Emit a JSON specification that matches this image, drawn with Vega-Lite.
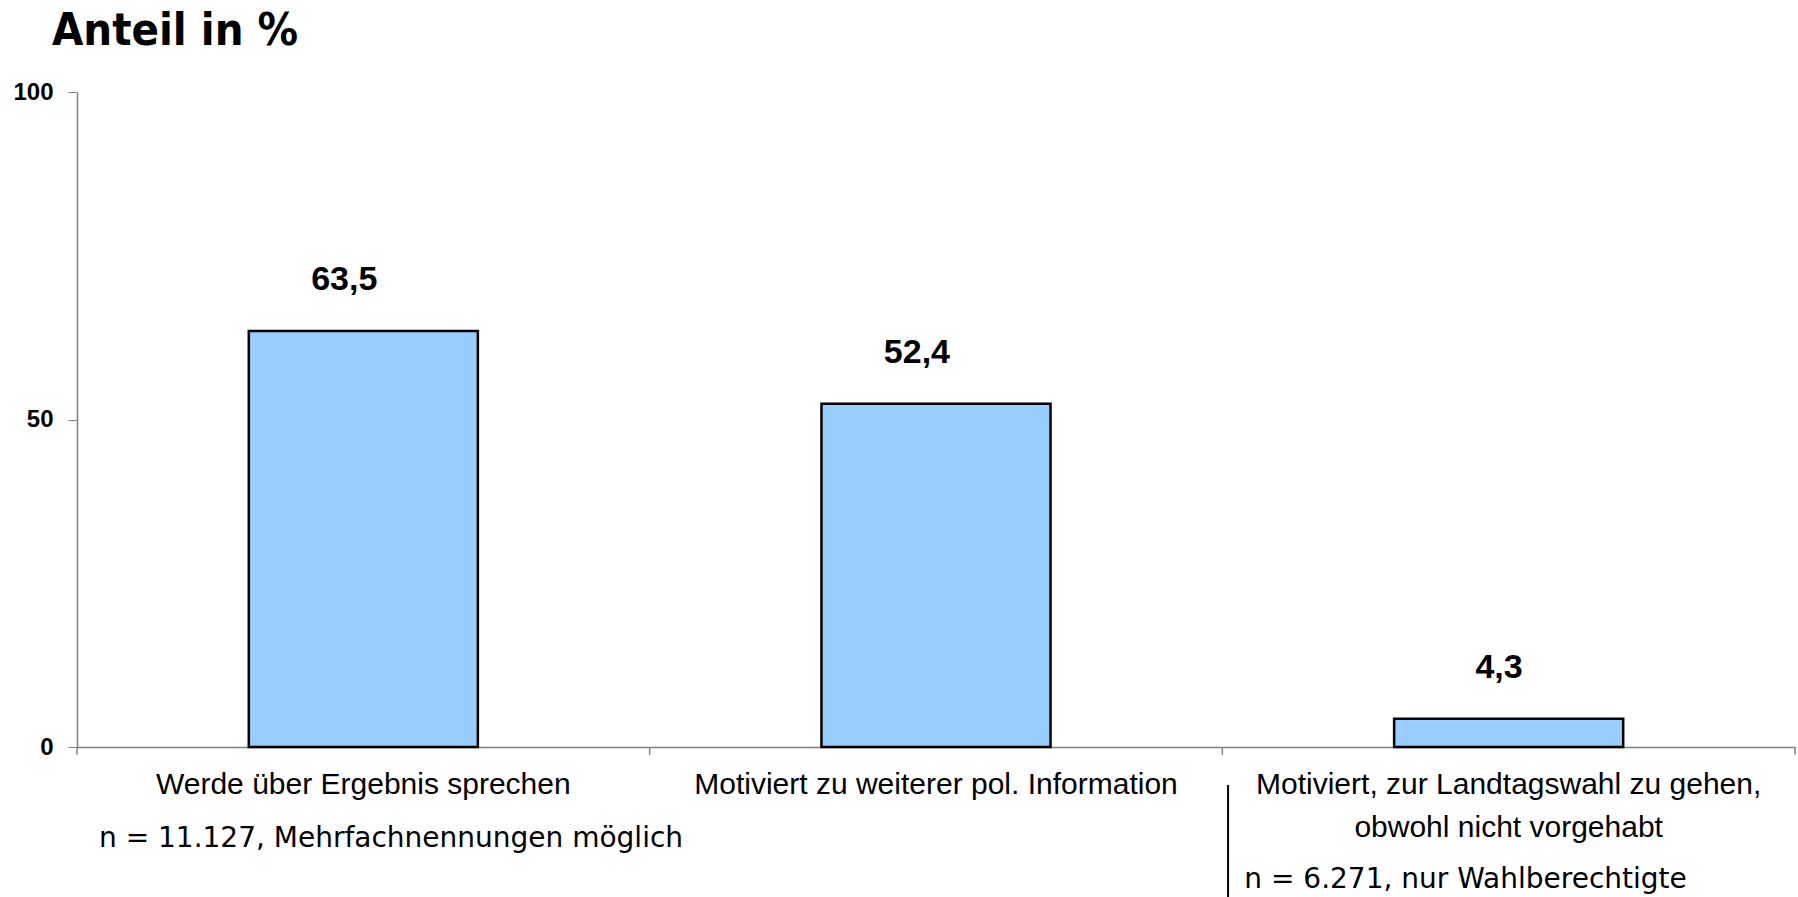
{
  "$schema": "https://vega.github.io/schema/vega-lite/v6.json",
  "autosize": "none",
  "width": 1718,
  "height": 655,
  "padding": {"left": 77, "top": 92, "right": 3, "bottom": 150},
  "background": "white",
  "title": {
    "text": "Anteil in %",
    "anchor": "start",
    "frame": "group",
    "dx": -25,
    "offset": -10,
    "baseline": "alphabetic",
    "font": "DejaVu Sans Condensed",
    "fontWeight": "bold",
    "fontSize": 45,
    "color": "black"
  },
  "config": {
    "view": {"stroke": null},
    "locale": {"number": {"decimal": ",", "thousands": ".", "grouping": [3], "currency": ["", " €"]}}
  },
  "datasets": {
    "werte": [
      {"kategorie": "Werde über Ergebnis sprechen", "anteil": 63.5},
      {"kategorie": "Motiviert zu weiterer pol. Information", "anteil": 52.4},
      {"kategorie": "Motiviert, zur Landtagswahl zu gehen, obwohl nicht vorgehabt", "anteil": 4.3}
    ],
    "hinweise": [
      {"kategorie": "Werde über Ergebnis sprechen", "hinweis": "n = 11.127, Mehrfachnennungen möglich", "zeile": -15.3},
      {"kategorie": "Motiviert, zur Landtagswahl zu gehen, obwohl nicht vorgehabt", "hinweis": "n = 6.271, nur Wahlberechtigte", "zeile": -21.5}
    ]
  },
  "layer": [
    {
      "data": {"name": "werte"},
      "mark": {"type": "bar", "color": "#99CCFF", "stroke": "black", "strokeWidth": 2.5, "width": {"band": 0.4}},
      "encoding": {
        "x": {
          "field": "kategorie",
          "type": "nominal",
          "scale": {
            "domain": ["Werde über Ergebnis sprechen", "Motiviert zu weiterer pol. Information", "Motiviert, zur Landtagswahl zu gehen, obwohl nicht vorgehabt"],
            "paddingInner": 0,
            "paddingOuter": 0
          },
          "axis": {
            "title": null,
            "labelAngle": 0,
            "ticks": false,
            "tickSize": 0,
            "labelPadding": 22,
            "labelFont": "Liberation Sans",
            "labelFontSize": 30,
            "labelColor": "black",
            "labelLineHeight": 43,
            "labelLimit": 0,
            "domainColor": "#808080",
            "domainWidth": 1.5,
            "labelExpr": "datum.label == 'Motiviert, zur Landtagswahl zu gehen, obwohl nicht vorgehabt' ? ['Motiviert, zur Landtagswahl zu gehen,', 'obwohl nicht vorgehabt'] : datum.label"
          }
        },
        "y": {
          "field": "anteil",
          "type": "quantitative",
          "scale": {"domain": [0, 100], "nice": false, "zero": true},
          "axis": {
            "title": null,
            "values": [0, 50, 100],
            "grid": false,
            "tickSize": 9,
            "tickColor": "#808080",
            "domainColor": "#808080",
            "domainWidth": 1.5,
            "labelPadding": 15,
            "labelFont": "Liberation Sans",
            "labelFontWeight": "bold",
            "labelFontSize": 24,
            "labelColor": "black"
          }
        }
      }
    },
    {
      "data": {"name": "werte"},
      "mark": {"type": "text", "align": "right", "baseline": "alphabetic", "dx": 14, "dy": -41, "font": "Liberation Sans", "fontWeight": "bold", "fontSize": 34, "color": "black"},
      "encoding": {
        "x": {"field": "kategorie", "type": "nominal"},
        "y": {"field": "anteil", "type": "quantitative"},
        "text": {"field": "anteil", "type": "quantitative", "format": ".1f"}
      }
    },
    {
      "data": {"name": "werte"},
      "mark": {"type": "rule", "color": "#808080", "strokeWidth": 1.5},
      "encoding": {
        "x": {"field": "kategorie", "type": "nominal", "bandPosition": 0},
        "y": {"datum": 0},
        "y2": {"datum": -1.2}
      }
    },
    {
      "data": {"name": "werte"},
      "transform": [{"filter": "datum.kategorie == 'Motiviert, zur Landtagswahl zu gehen, obwohl nicht vorgehabt'"}],
      "mark": {"type": "rule", "color": "#808080", "strokeWidth": 1.5},
      "encoding": {
        "x": {"field": "kategorie", "type": "nominal", "bandPosition": 1},
        "y": {"datum": 0},
        "y2": {"datum": -1.2}
      }
    },
    {
      "data": {"name": "werte"},
      "transform": [{"filter": "datum.kategorie == 'Motiviert, zur Landtagswahl zu gehen, obwohl nicht vorgehabt'"}],
      "mark": {"type": "rule", "color": "black", "strokeWidth": 2},
      "encoding": {
        "x": {"field": "kategorie", "type": "nominal", "bandPosition": 0.01},
        "y": {"datum": -5.8},
        "y2": {"datum": -23.5}
      }
    },
    {
      "data": {"name": "hinweise"},
      "mark": {"type": "text", "align": "left", "baseline": "alphabetic", "dx": 22, "font": "DejaVu Sans", "fontSize": 28, "color": "black"},
      "encoding": {
        "x": {"field": "kategorie", "type": "nominal", "bandPosition": 0},
        "y": {"field": "zeile", "type": "quantitative"},
        "text": {"field": "hinweis", "type": "nominal"}
      }
    }
  ]
}
